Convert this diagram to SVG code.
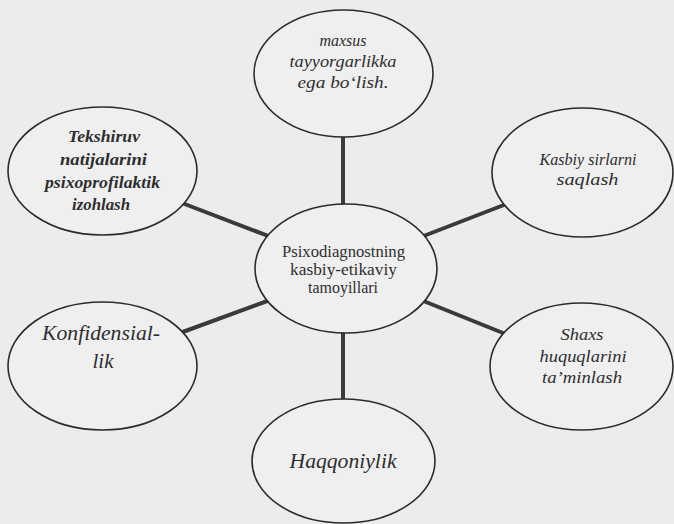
<svg xmlns="http://www.w3.org/2000/svg" width="674" height="524" viewBox="0 0 674 524">
<style>
.bg{fill:#ececec}
.node ellipse{fill:#efefef;stroke:#2b2b2b;stroke-width:1.6}
.conn line{stroke:#3a3a3a;stroke-width:4;stroke-linecap:butt}
text{font-family:'Liberation Serif','DejaVu Serif',serif;fill:#2e2e2e;text-anchor:middle}
.it{font-style:italic;font-size:16px}
.itb{font-style:italic;font-weight:bold;font-size:16px}
.big{font-style:italic;font-size:21px}
.ctr{font-size:16px}
</style>
<rect class="bg" x="0" y="0" width="674" height="524"/>
<g id="connectors" class="conn">
<line x1="343" y1="130" x2="343" y2="212"/>
<line x1="343" y1="326" x2="343" y2="406"/>
<line x1="182" y1="203" x2="271" y2="237"/>
<line x1="509" y1="203" x2="421" y2="237"/>
<line x1="180" y1="333" x2="270" y2="300"/>
<line x1="508" y1="335" x2="421" y2="300"/>
</g>
<g id="center" class="node">
<ellipse cx="346" cy="268.5" rx="91" ry="64.5"/>
<text class="ctr" x="343.5" y="257" textLength="123" lengthAdjust="spacingAndGlyphs">Psixodiagnostning</text>
<text class="ctr" x="343.5" y="275" textLength="107" lengthAdjust="spacingAndGlyphs">kasbiy-etikaviy</text>
<text class="ctr" x="343" y="293" textLength="70" lengthAdjust="spacingAndGlyphs">tamoyillari</text>
</g>
<g id="node-maxsus" class="node">
<ellipse cx="343.5" cy="73.5" rx="89.5" ry="63.5"/>
<text class="it" x="343" y="46" textLength="47" lengthAdjust="spacingAndGlyphs">maxsus</text>
<text class="it" x="343" y="67" textLength="107" lengthAdjust="spacingAndGlyphs">tayyorgarlikka</text>
<text class="it" x="343" y="88" textLength="91" lengthAdjust="spacingAndGlyphs">ega bo‘lish.</text>
</g>
<g id="node-tekshiruv" class="node">
<ellipse cx="102.5" cy="171" rx="94.5" ry="64"/>
<text class="itb" x="104" y="142" textLength="72" lengthAdjust="spacingAndGlyphs">Tekshiruv</text>
<text class="itb" x="103.5" y="165" textLength="87" lengthAdjust="spacingAndGlyphs">natijalarini</text>
<text class="itb" x="102.5" y="188" textLength="115" lengthAdjust="spacingAndGlyphs">psixoprofilaktik</text>
<text class="itb" x="101" y="210" textLength="58" lengthAdjust="spacingAndGlyphs">izohlash</text>
</g>
<g id="node-kasbiy" class="node">
<ellipse cx="582.5" cy="172.5" rx="90.5" ry="64.5"/>
<text class="it" x="588" y="165" textLength="97" lengthAdjust="spacingAndGlyphs">Kasbiy sirlarni</text>
<text class="it" x="587.5" y="185" textLength="62" lengthAdjust="spacingAndGlyphs">saqlash</text>
</g>
<g id="node-konfidensial" class="node">
<ellipse cx="102.5" cy="366" rx="94.5" ry="64"/>
<text class="big" x="101" y="340" textLength="118" lengthAdjust="spacingAndGlyphs">Konfidensial-</text>
<text class="big" x="103" y="368">lik</text>
</g>
<g id="node-shaxs" class="node">
<ellipse cx="581.5" cy="366.5" rx="91.5" ry="63.5"/>
<text class="it" x="582" y="340" textLength="43" lengthAdjust="spacingAndGlyphs">Shaxs</text>
<text class="it" x="583" y="362" textLength="87" lengthAdjust="spacingAndGlyphs">huquqlarini</text>
<text class="it" x="582" y="383" textLength="80" lengthAdjust="spacingAndGlyphs">ta’minlash</text>
</g>
<g id="node-haqqoniylik" class="node">
<ellipse cx="343.5" cy="461" rx="91.5" ry="62"/>
<text class="big" x="343" y="468" textLength="107" lengthAdjust="spacingAndGlyphs">Haqqoniylik</text>
</g>
</svg>
